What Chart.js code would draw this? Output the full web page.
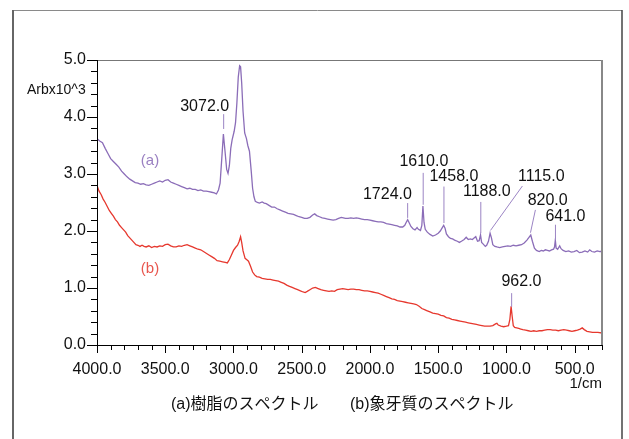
<!DOCTYPE html>
<html>
<head>
<meta charset="utf-8">
<title>Spectrum</title>
<script src="https://cdn.jsdelivr.net/npm/chart.js@4.4.0/dist/chart.umd.min.js"></script>
<style>
  html, body { margin: 0; padding: 0; background: #fff; }
  #wrap { position: relative; width: 629px; height: 439px; }
</style>
</head>
<body>
<div id="wrap"><canvas id="spectrum" width="629" height="439"></canvas></div>
<script>
// ---- data ----
const waveA = [4000,3980,3960,3940,3920,3900,3880,3860,3840,3820,3800,3780,3760,3740,3720,3700,3680,3660,3640,3620,3600,3580,3560,3540,3520,3500,3480,3460,3440,3420,3400,3380,3360,3340,3320,3300,3280,3260,3240,3220,3200,3180,3160,3140,3125,3110,3098,3085,3074,3062,3050,3040,3030,3020,3010,2995,2985,2975,2965,2955,2948,2940,2930,2918,2905,2895,2883,2870,2860,2850,2840,2825,2810,2790,2775,2760,2740,2720,2700,2680,2660,2640,2620,2600,2580,2560,2540,2520,2500,2480,2460,2440,2420,2405,2390,2370,2350,2330,2310,2290,2270,2250,2230,2210,2195,2180,2160,2140,2120,2100,2080,2060,2040,2020,2000,1980,1960,1940,1920,1900,1880,1860,1840,1820,1800,1780,1760,1745,1735,1724,1712,1700,1685,1670,1655,1645,1630,1620,1612,1604,1595,1580,1560,1540,1520,1500,1485,1470,1460,1450,1440,1425,1410,1395,1380,1360,1345,1330,1310,1295,1280,1265,1250,1235,1225,1212,1200,1190,1182,1170,1155,1145,1132,1120,1110,1100,1085,1070,1050,1030,1010,990,970,950,930,910,890,870,850,835,822,810,795,780,760,745,730,715,700,685,670,655,648,642,636,625,610,600,585,565,545,525,505,485,465,445,425,405,390,375,355,335,315,300];
const resinA = [3.62,3.58,3.55,3.45,3.36,3.27,3.22,3.17,3.12,3.05,3.00,2.95,2.91,2.88,2.85,2.84,2.82,2.83,2.81,2.80,2.82,2.84,2.86,2.88,2.86,2.89,2.90,2.86,2.84,2.82,2.80,2.78,2.76,2.74,2.75,2.73,2.73,2.71,2.72,2.70,2.70,2.69,2.68,2.67,2.65,2.72,2.84,3.30,3.70,3.40,3.08,3.01,3.15,3.45,3.60,3.75,3.90,4.25,4.70,4.90,4.88,4.60,4.10,3.72,3.62,3.50,3.40,3.05,2.75,2.60,2.52,2.50,2.49,2.51,2.49,2.48,2.45,2.42,2.42,2.39,2.37,2.35,2.33,2.31,2.30,2.29,2.27,2.25,2.24,2.22,2.22,2.24,2.28,2.30,2.27,2.25,2.23,2.22,2.21,2.20,2.19,2.20,2.22,2.24,2.23,2.22,2.22,2.23,2.22,2.23,2.22,2.21,2.20,2.20,2.19,2.18,2.17,2.16,2.16,2.15,2.13,2.12,2.11,2.10,2.09,2.07,2.07,2.10,2.15,2.20,2.14,2.08,2.04,2.02,2.06,2.03,2.01,2.10,2.44,2.15,2.03,1.98,1.94,1.91,1.93,1.96,2.00,2.06,2.10,2.05,1.95,1.90,1.87,1.86,1.84,1.82,1.80,1.82,1.85,1.89,1.85,1.86,1.85,1.88,1.90,1.82,1.83,1.93,1.80,1.77,1.73,1.75,1.82,1.96,1.88,1.76,1.73,1.72,1.71,1.72,1.73,1.74,1.73,1.75,1.74,1.75,1.76,1.79,1.84,1.89,1.93,1.82,1.70,1.66,1.64,1.66,1.65,1.67,1.66,1.65,1.67,1.68,1.72,1.84,1.70,1.68,1.74,1.69,1.66,1.64,1.65,1.63,1.64,1.66,1.62,1.63,1.65,1.63,1.67,1.64,1.63,1.65,1.64,1.64];

const waveB = [4000,3985,3970,3955,3940,3925,3910,3895,3880,3865,3850,3835,3820,3805,3790,3775,3760,3745,3730,3715,3700,3685,3670,3655,3640,3620,3600,3580,3560,3540,3520,3500,3480,3460,3440,3420,3400,3380,3360,3340,3320,3300,3280,3260,3240,3220,3200,3180,3160,3140,3120,3100,3080,3060,3045,3030,3015,3000,2985,2970,2958,2948,2940,2930,2915,2900,2890,2875,2860,2845,2830,2810,2790,2770,2750,2730,2710,2690,2670,2650,2630,2610,2590,2570,2550,2530,2510,2490,2475,2460,2440,2420,2400,2380,2360,2340,2320,2300,2280,2260,2240,2220,2200,2180,2160,2140,2120,2100,2080,2060,2040,2020,2000,1980,1960,1940,1920,1900,1880,1860,1840,1820,1800,1780,1760,1740,1720,1700,1680,1660,1640,1620,1600,1580,1560,1540,1520,1500,1480,1460,1440,1420,1400,1380,1360,1340,1320,1300,1280,1260,1240,1220,1200,1180,1160,1140,1120,1100,1080,1070,1060,1040,1020,1000,985,975,966,958,950,940,925,910,895,880,860,840,820,800,780,760,740,720,700,680,660,640,620,600,580,560,540,520,500,480,460,445,430,410,390,370,350,330,300];
const dentinB = [2.80,2.70,2.64,2.56,2.50,2.43,2.36,2.31,2.26,2.20,2.16,2.10,2.06,2.02,1.98,1.92,1.88,1.84,1.80,1.76,1.75,1.73,1.75,1.73,1.72,1.74,1.71,1.73,1.72,1.74,1.73,1.76,1.77,1.74,1.72,1.72,1.74,1.73,1.75,1.76,1.74,1.72,1.70,1.68,1.67,1.64,1.61,1.58,1.55,1.52,1.48,1.47,1.46,1.45,1.44,1.50,1.58,1.66,1.71,1.75,1.82,1.90,1.80,1.65,1.52,1.49,1.47,1.38,1.28,1.23,1.20,1.19,1.17,1.16,1.15,1.15,1.14,1.13,1.12,1.10,1.08,1.05,1.03,1.01,0.99,0.97,0.95,0.93,0.92,0.94,0.97,1.00,1.01,0.99,0.97,0.96,0.95,0.94,0.95,0.94,0.97,0.98,0.99,0.98,0.97,0.98,0.98,0.97,0.97,0.96,0.95,0.95,0.94,0.93,0.92,0.91,0.89,0.87,0.85,0.83,0.81,0.80,0.78,0.77,0.76,0.75,0.74,0.73,0.72,0.71,0.68,0.64,0.62,0.60,0.58,0.56,0.55,0.54,0.52,0.51,0.48,0.47,0.45,0.44,0.43,0.42,0.41,0.40,0.39,0.38,0.37,0.36,0.35,0.34,0.33,0.33,0.33,0.34,0.37,0.38,0.35,0.33,0.32,0.33,0.34,0.45,0.68,0.50,0.34,0.31,0.30,0.29,0.28,0.27,0.26,0.25,0.24,0.25,0.24,0.25,0.25,0.26,0.27,0.27,0.26,0.26,0.25,0.26,0.27,0.26,0.25,0.24,0.25,0.26,0.28,0.30,0.27,0.24,0.23,0.22,0.22,0.22,0.21];

const xTicks = [4000, 3500, 3000, 2500, 2000, 1500, 1000, 500];
const yTicks = [0, 1, 2, 3, 4, 5];
const peakLabels = ['3072.0', '1724.0', '1610.0', '1458.0', '1188.0', '1115.0', '820.0', '641.0', '962.0'];

// ---- layout of the peak labels (data units: wavenumber, intensity) ----
const peakLayout = [
    { tx: 3211, ty: 4.19, from: [3072, 4.05], to: [3072, 3.79] },
    { tx: 1872, ty: 2.64, from: [1724, 2.49], to: [1724, 2.23] },
    { tx: 1605, ty: 3.22, from: [1610, 3.02], to: [1610, 2.46] },
    { tx: 1385, ty: 2.95, from: [1458, 2.78], to: [1458, 2.14] },
    { tx: 1144, ty: 2.69, from: [1188, 2.51], to: [1188, 1.96] },
    { tx: 745,  ty: 2.95, from: [883, 2.79],  to: [1117, 2.01] },
    { tx: 698,  ty: 2.53, from: [788, 2.37],  to: [824, 1.97] },
    { tx: 568,  ty: 2.25, from: [641, 2.11],  to: [641, 1.84] },
    { tx: 890,  ty: 1.11, from: [962, 0.91],  to: [962, 0.67] }
];

const NUM_FONT = '"Liberation Sans", Arial, sans-serif';
const JP_FONT = '"Liberation Sans", "Noto Sans CJK JP", sans-serif';
const PURPLE = '#8b6db8';
const RED = '#e6382e';
const MARK = '#9b84c4';

// frame, axes, minor ticks and texts
const decorPlugin = {
    id: 'decor',
    afterDatasetsDraw(chart) {
        const { ctx, chartArea: a, scales: { x, y } } = chart;
        ctx.save();

        // outer border
        ctx.lineWidth = 1;
        ctx.strokeStyle = '#8a8a8a';
        ctx.beginPath(); ctx.moveTo(13, 10.5); ctx.lineTo(622, 10.5); ctx.stroke();
        ctx.lineWidth = 2;
        ctx.strokeStyle = '#666';
        ctx.beginPath(); ctx.moveTo(13, 10); ctx.lineTo(13, 439); ctx.stroke();
        ctx.lineWidth = 1.5;
        ctx.strokeStyle = '#444';
        ctx.beginPath(); ctx.moveTo(622, 10); ctx.lineTo(622, 439); ctx.stroke();

        // plot frame (top, right grey)
        ctx.lineWidth = 1;
        ctx.strokeStyle = '#777';
        ctx.beginPath(); ctx.moveTo(a.left, a.top + 0.5); ctx.lineTo(a.right, a.top + 0.5); ctx.stroke();
        ctx.lineWidth = 2;
        ctx.strokeStyle = '#888';
        ctx.beginPath(); ctx.moveTo(a.right, a.top); ctx.lineTo(a.right, a.bottom); ctx.stroke();

        // axes lines
        ctx.lineWidth = 1;
        ctx.strokeStyle = '#000';
        ctx.beginPath();
        ctx.moveTo(a.left + 0.5, a.top); ctx.lineTo(a.left + 0.5, a.bottom + 0.5);
        ctx.lineTo(a.right, a.bottom + 0.5);
        ctx.stroke();

        // ticks on x
        ctx.beginPath();
        for (let v = 4000; v >= 300; v -= 100) {
            const px = Math.round(x.getPixelForValue(v)) + 0.5;
            const len = v % 500 === 0 ? 8 : 5;
            ctx.moveTo(px, a.bottom); ctx.lineTo(px, a.bottom + len);
        }
        // ticks on y
        for (let i = 0; i <= 25; i++) {
            const v = i / 5;
            const py = Math.round(y.getPixelForValue(v)) + 0.5;
            const len = i % 5 === 0 ? 10 : 6;
            ctx.moveTo(a.left, py); ctx.lineTo(a.left - len, py);
        }
        ctx.stroke();

        // axis titles
        ctx.fillStyle = '#111';
        ctx.textBaseline = 'middle';
        ctx.font = '14px ' + NUM_FONT;
        ctx.textAlign = 'left';
        ctx.fillText('Arbx10^3', 27, 90);
        ctx.font = '15px ' + NUM_FONT;
        ctx.textAlign = 'right';
        ctx.fillText('1/cm', a.right, 384);

        // captions
        ctx.font = '16px ' + JP_FONT;
        ctx.textAlign = 'left';
        ctx.fillText('(a)樹脂のスペクトル', 171, 405);
        ctx.fillText('(b)象牙質のスペクトル', 350, 405);

        // series tags
        ctx.font = '15px ' + NUM_FONT;
        ctx.textAlign = 'center';
        ctx.fillStyle = '#9a80c2';
        ctx.fillText('(a)', 150, 161);
        ctx.fillStyle = '#e8574f';
        ctx.fillText('(b)', 150, 269);

        // peak labels
        ctx.font = '16px ' + NUM_FONT;
        ctx.strokeStyle = MARK;
        ctx.lineWidth = 1;
        peakLabels.forEach((label, i) => {
            const p = peakLayout[i];
            ctx.beginPath();
            ctx.moveTo(x.getPixelForValue(p.from[0]), y.getPixelForValue(p.from[1]));
            ctx.lineTo(x.getPixelForValue(p.to[0]), y.getPixelForValue(p.to[1]));
            ctx.stroke();
            ctx.fillStyle = '#111';
            ctx.fillText(label, x.getPixelForValue(p.tx), y.getPixelForValue(p.ty));
        });

        ctx.restore();
    }
};

const toPoints = (xs, ys) => xs.map((v, i) => ({ x: v, y: ys[i] }));

new Chart(document.getElementById('spectrum').getContext('2d'), {
    type: 'line',
    data: {
        datasets: [
            {
                label: '(a)樹脂のスペクトル',
                data: toPoints(waveA, resinA),
                borderColor: PURPLE,
                borderWidth: 1.3,
                pointRadius: 0,
                tension: 0
            },
            {
                label: '(b)象牙質のスペクトル',
                data: toPoints(waveB, dentinB),
                borderColor: RED,
                borderWidth: 1.3,
                pointRadius: 0,
                tension: 0
            }
        ]
    },
    options: {
        responsive: false,
        animation: false,
        parsing: false,
        layout: { padding: { left: 0, top: 60, right: 27, bottom: 0 } },
        plugins: {
            legend: { display: false },
            tooltip: { enabled: false }
        },
        scales: {
            x: {
                type: 'linear',
                reverse: true,
                min: 300,
                max: 4000,
                afterBuildTicks: s => { s.ticks = xTicks.map(v => ({ value: v })); },
                afterFit: s => { s.height = 94; },
                grid: { display: false, drawTicks: false },
                border: { display: false },
                ticks: {
                    padding: 15,
                    color: '#111',
                    maxRotation: 0,
                    autoSkip: false,
                    font: { family: NUM_FONT, size: 16 },
                    callback: v => Number(v).toFixed(1)
                }
            },
            y: {
                type: 'linear',
                min: 0,
                max: 5,
                afterBuildTicks: s => { s.ticks = yTicks.map(v => ({ value: v })); },
                afterFit: s => { s.width = 97; },
                grid: { display: false, drawTicks: false },
                border: { display: false },
                ticks: {
                    padding: 11,
                    color: '#111',
                    font: { family: NUM_FONT, size: 16 },
                    callback: v => Number(v).toFixed(1)
                }
            }
        }
    },
    plugins: [decorPlugin]
});
</script>
</body>
</html>
